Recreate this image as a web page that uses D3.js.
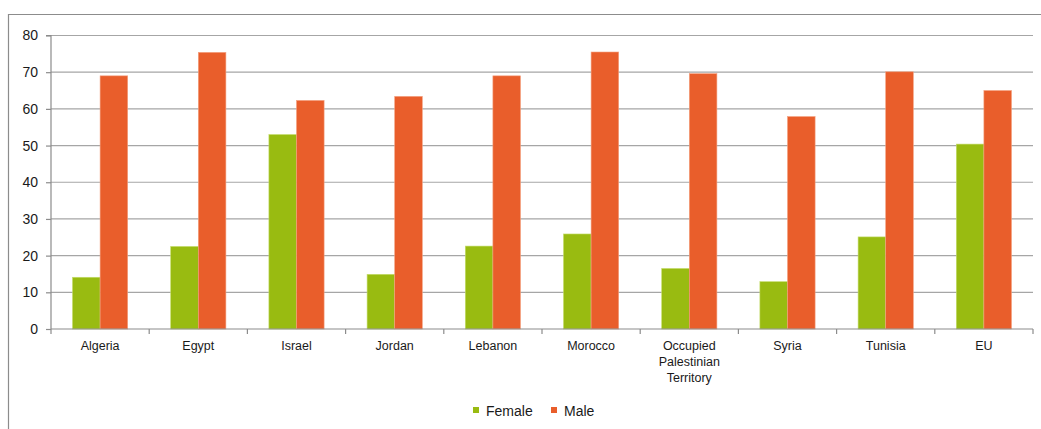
<!DOCTYPE html>
<html>
<head>
<meta charset="utf-8">
<script src="https://cdn.jsdelivr.net/npm/d3@7"></script>
<style>
  html, body { margin: 0; padding: 0; background: #fff; }
  svg { display: block; font-family: "Liberation Sans", Arial, sans-serif; }
</style>
</head>
<body>
<svg id="chart" width="1041" height="429"></svg>
<script>
// Employment rates by country and sex
const categories = [
  ["Algeria"], ["Egypt"], ["Israel"], ["Jordan"], ["Lebanon"], ["Morocco"],
  ["Occupied", "Palestinian", "Territory"], ["Syria"], ["Tunisia"], ["EU"]
];
const seriesNames = ["Female", "Male"];
const female = [14.1, 22.5, 53.0, 14.9, 22.6, 25.9, 16.5, 12.9, 25.1, 50.4];
const male   = [69.0, 75.4, 62.3, 63.4, 69.0, 75.5, 69.6, 57.9, 70.1, 65.0];
const yTicks = [0, 10, 20, 30, 40, 50, 60, 70, 80];
const colors = ["#99BB11", "#E95E2B"];

const svg = d3.select("#chart");
const plot = { left: 51, right: 1033, top: 35.5, bottom: 329 };

// outer chart frame (top and left edges visible)
svg.append("path")
  .attr("d", "M8.5,429 V14.5 H1041")
  .attr("fill", "none").attr("stroke", "#8c8c8c").attr("stroke-width", 1.2);

const labels = categories.map(c => c.join(" "));
const x = d3.scaleBand().domain(labels).range([plot.left, plot.right]).paddingInner(0).paddingOuter(0);
const x1 = d3.scaleBand().domain(seriesNames).range([0, 55.2]);
const y = d3.scaleLinear().domain([0, 80]).range([plot.bottom, plot.top]);

// gridlines
svg.append("g").selectAll("line").data(yTicks.filter(t => t > 0)).join("line")
  .attr("x1", plot.left).attr("x2", plot.right)
  .attr("y1", d => y(d)).attr("y2", d => y(d))
  .attr("stroke", "#a6a6a6").attr("stroke-width", 1.2);

// bars
const data = labels.map((l, i) => ({ label: l, values: [female[i], male[i]] }));
const groups = svg.append("g").selectAll("g").data(data).join("g")
  .attr("transform", d => `translate(${x(d.label) + (x.bandwidth() - 55.2) / 2},0)`);
groups.selectAll("rect").data(d => d.values.map((v, k) => ({ k, v }))).join("rect")
  .attr("x", d => x1(seriesNames[d.k]))
  .attr("width", x1.bandwidth())
  .attr("y", d => y(d.v))
  .attr("height", d => y(0) - y(d.v))
  .attr("fill", d => colors[d.k])
  .attr("stroke", d => d.k === 0 ? "#c4dc6a" : "#f3a07f")
  .attr("stroke-width", 0.6);

// y axis
const yAxis = d3.axisLeft(y).tickValues(yTicks).tickSize(5).tickPadding(8);
const gy = svg.append("g").attr("transform", `translate(${plot.left},0)`).call(yAxis);
gy.select(".domain").attr("stroke", "#8c8c8c").attr("stroke-width", 1.2).attr("d", `M-5,${y(80)}H0V${y(0)}`);
gy.selectAll(".tick line").attr("stroke", "#8c8c8c").attr("stroke-width", 1.2);
gy.selectAll(".tick text").attr("font-size", 14).attr("fill", "#1a1a1a").attr("font-family", "Liberation Sans, Arial, sans-serif");

// x axis
const gx = svg.append("g").attr("transform", `translate(0,${plot.bottom})`);
gx.append("line").attr("x1", plot.left).attr("x2", plot.right).attr("stroke", "#8c8c8c").attr("stroke-width", 1.2);
const bounds = labels.map(l => x(l)).concat([plot.right]);
gx.selectAll("line.tick").data(bounds).join("line").attr("class", "tick")
  .attr("x1", d => d).attr("x2", d => d).attr("y1", 0).attr("y2", 5)
  .attr("stroke", "#8c8c8c").attr("stroke-width", 1.2);
const xl = gx.selectAll("text").data(categories).join("text")
  .attr("text-anchor", "middle")
  .attr("font-size", 12.5).attr("fill", "#1a1a1a")
  .attr("transform", (d, i) => `translate(${x(labels[i]) + x.bandwidth() / 2},20.5)`);
xl.selectAll("tspan").data(d => d).join("tspan")
  .attr("x", 0).attr("dy", (d, i) => i === 0 ? 0 : 16).text(d => d);

// legend
const legend = svg.append("g").attr("transform", "translate(473,407)");
const items = [{ name: "Female", dx: 0 }, { name: "Male", dx: 78 }];
items.forEach((it, i) => {
  const g = legend.append("g").attr("transform", `translate(${it.dx},0)`);
  g.append("rect").attr("width", 6).attr("height", 6).attr("fill", colors[i]);
  g.append("text").attr("x", 13).attr("y", 9).attr("font-size", 14).attr("fill", "#1a1a1a").text(it.name);
});
</script>
</body>
</html>
